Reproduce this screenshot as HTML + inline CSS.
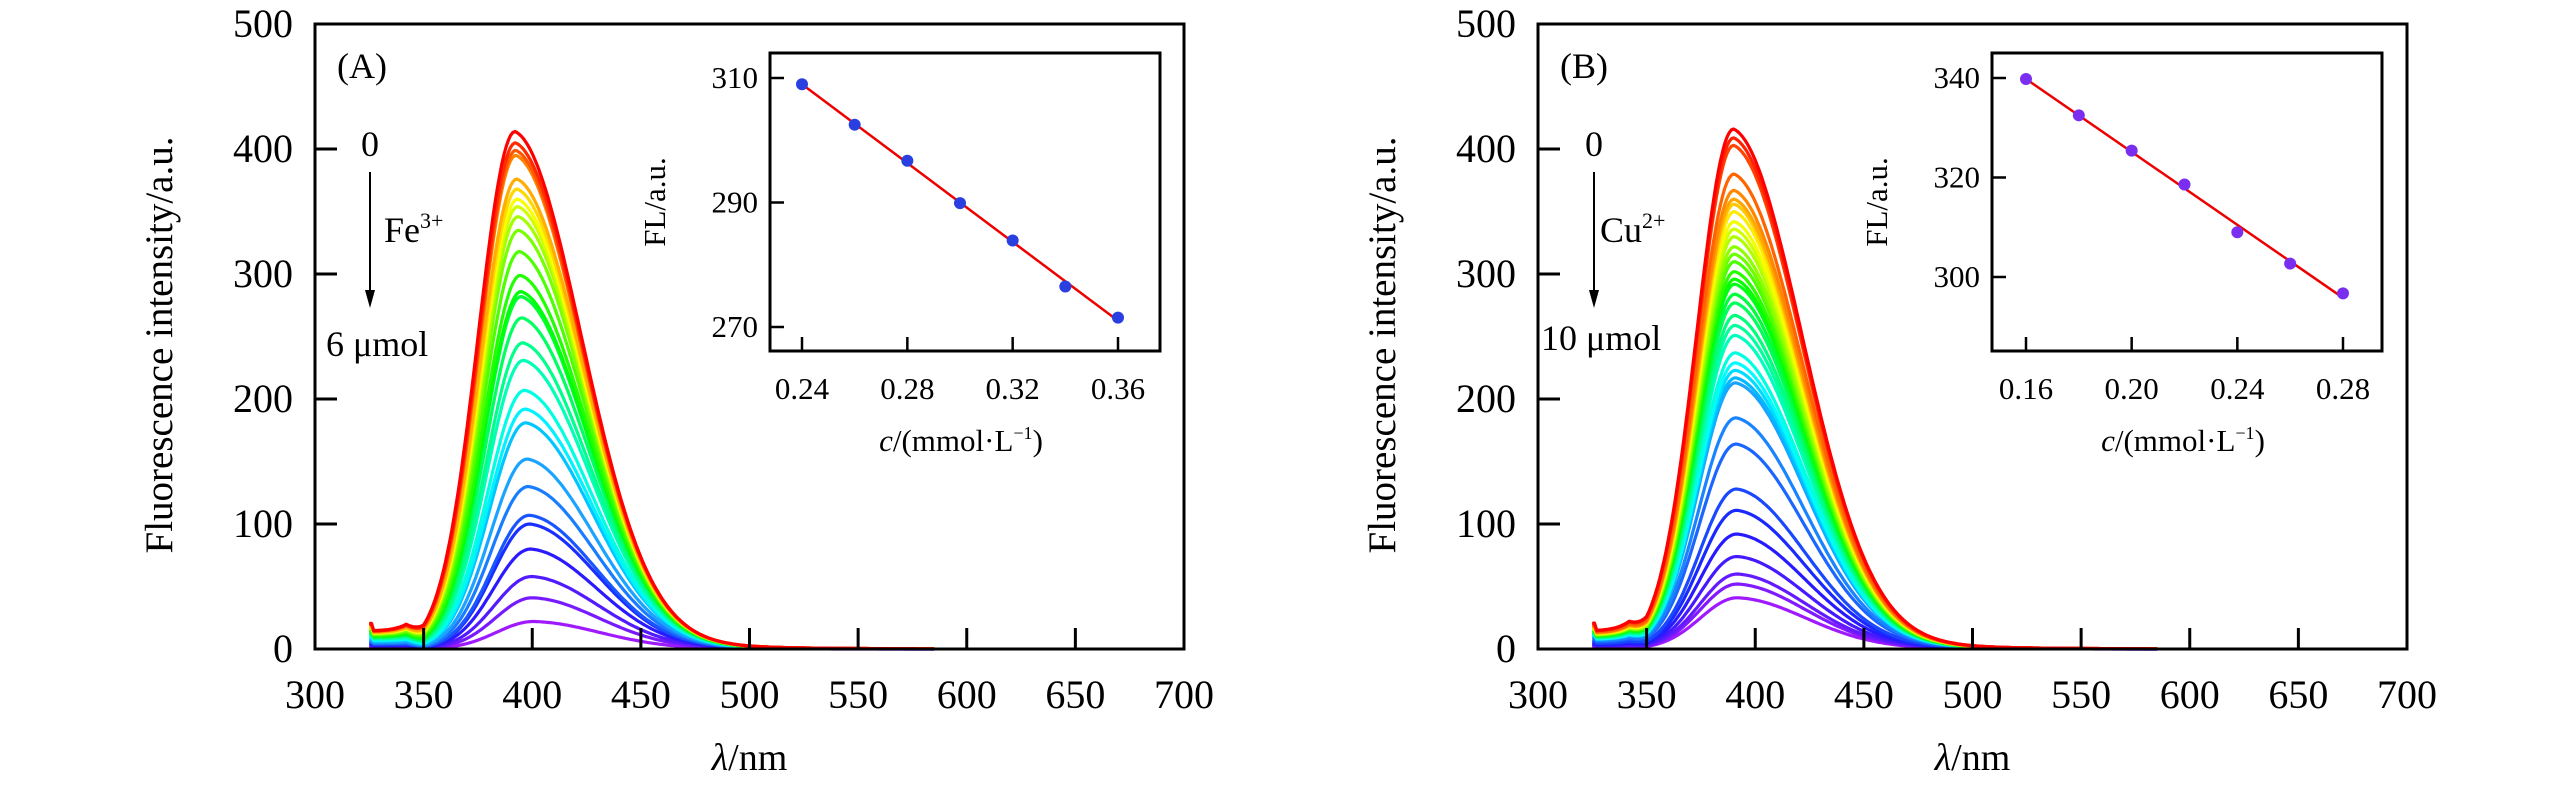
<!DOCTYPE html>
<html><head><meta charset="utf-8"><style>
body{margin:0;background:#fff;}
svg, svg text{font-family:"Liberation Serif","Times New Roman",serif;}
</style></head><body>
<svg id="fig" width="2567" height="787" viewBox="0 0 2567 787" font-family="Liberation Serif, serif"></svg>
<script>
const peaksA=[414,405,399,395,376,368,360,354,346,335,318,299,286,282,265,245,231,207,192,181,152,130,107,100,80,58,41,22];
const peaksB=[416,409,403,380,367,360,356,350,342,336,330,322,316,310,302,296,292,284,277,267,259,251,237,229,223,217,213,185,164,128,111,92,74,60,52,41];
const insetAx=[0.24,0.26,0.28,0.30,0.32,0.34,0.36];
const insetAy=[309.0,302.5,296.7,289.9,283.9,276.5,271.5];
const insetBx=[0.16,0.18,0.20,0.22,0.24,0.26,0.28];
const insetBy=[339.8,332.5,325.4,318.6,309.0,302.7,296.7];
const xTicks=[300,350,400,450,500,550,600,650,700];
const yTicks=[0,100,200,300,400,500];
const insetAxTicks=[0.24,0.28,0.32,0.36];
const insetAyTicks=[270,290,310];
const insetBxTicks=[0.16,0.20,0.24,0.28];
const insetByTicks=[300,320,340];

const NS="http://www.w3.org/2000/svg";
const svg=document.getElementById('fig');
function el(tag,attrs,parent,text){const e=document.createElementNS(NS,tag);for(const k in attrs)e.setAttribute(k,attrs[k]);if(tag==='text')e.setAttribute('font-family','Liberation Serif, serif');if(text!==undefined)e.textContent=text;(parent||svg).appendChild(e);return e;}

function panel(cfg){
  const g=el('g',{});
  
  
  const L=cfg.left,R=cfg.left+869,T=24,B=649;
  const sx=v=>L+(v-300)/400*(R-L);
  const sy=v=>B-v/500*(B-T);
  const n=cfg.peaks.length;
  const cg=el('g',{fill:'none','stroke-width':3.2,'stroke-linejoin':'round'},g);
  
  
  for(let i=n-1;i>=0;i--){
    const A=cfg.peaks[i];
    const hue=(i/(n-1))*275;
    const p=cfg.peakPos+(1-A/420)*cfg.shift;
    let d='';
    for(let x=325;x<=585;x+=1){
      const s=x<p?cfg.sl:cfg.sr;
      const u=Math.abs(x-p)/s;
      let y=A*Math.exp(-u*u/2);
      if(x>p) y=A*(0.93*Math.exp(-u*u/2)+0.07*Math.exp(-u/1.2));
      if(x<350) y+=A*0.035*(x<327?1.4:1)*Math.min(1,(350-x)/8);
      d+=(x===325?'M':'L')+sx(x).toFixed(1)+','+sy(y).toFixed(1);
    }
    const path=el('path',{d:d,stroke:`hsl(${hue},100%,${hue>200?55:50}%)`},cg);
    
    
  }
  const fr=el('rect',{x:L,y:T,width:R-L,height:B-T,fill:'none',stroke:'#000','stroke-width':3},g);
  
  
  xTicks.forEach(v=>{
    el('line',{x1:sx(v),x2:sx(v),y1:B,y2:B-21,stroke:'#000','stroke-width':3},g);
    const t=el('text',{x:sx(v),y:708,'font-size':40,'text-anchor':'middle'},g,v);
    
    
  });
  yTicks.forEach(v=>{
    el('line',{x1:L,x2:L+22,y1:sy(v),y2:sy(v),stroke:'#000','stroke-width':3},g);
    const t=el('text',{x:L-22,y:sy(v)+13,'font-size':40,'text-anchor':'end'},g,v);
    
    
  });
  const xl=el('text',{x:(L+R)/2,y:770,'font-size':38,'text-anchor':'middle'},g);
  xl.innerHTML='<tspan font-style="italic">λ</tspan>/nm';
  
  
  const yl=el('text',{x:0,y:0,'font-size':39,'text-anchor':'middle',transform:`translate(${L-143},345) rotate(-90)`},g,'Fluorescence intensity/a.u.');
  
  
  const lab=el('text',{x:L+22,y:78,'font-size':36},g,cfg.label);
  
  
  const z=el('text',{x:cfg.arrowX,y:156,'font-size':36,'text-anchor':'middle'},g,'0');
  
  
  el('line',{x1:cfg.arrowX,x2:cfg.arrowX,y1:172,y2:295,stroke:'#000','stroke-width':2},g);
  el('path',{d:`M${cfg.arrowX-5},290 L${cfg.arrowX+5},290 L${cfg.arrowX},308 Z`,fill:'#000'},g);
  const ion=el('text',{x:cfg.ionX,y:242,'font-size':36},g);
  ion.innerHTML=cfg.ion+'<tspan font-size="22" dy="-14">'+cfg.charge+'</tspan>';
  
  
  const en=el('text',{x:cfg.endX,y:cfg.endY,'font-size':36},g,cfg.end);
  
  
  const iL=cfg.iLeft,iR=iL+390,iT=53,iB=351;
  const ig=el('g',{},g);
  
  
  el('rect',{x:iL,y:iT,width:iR-iL,height:iB-iT,fill:'#fff',stroke:'#000','stroke-width':3},ig);
  const ix=v=>cfg.ix0+(v-cfg.ixv0)/(cfg.ixv1-cfg.ixv0)*(cfg.ix1-cfg.ix0);
  const iy=v=>cfg.iy0+(v-cfg.iyv0)/(cfg.iyv1-cfg.iyv0)*(cfg.iy1-cfg.iy0);
  cfg.ixt.forEach(v=>{
    el('line',{x1:ix(v),x2:ix(v),y1:iB,y2:iB-14,stroke:'#000','stroke-width':2.5},ig);
    const t=el('text',{x:ix(v),y:399,'font-size':31,'text-anchor':'middle'},ig,v.toFixed(2));
    
    
  });
  cfg.iyt.forEach(v=>{
    el('line',{x1:iL,x2:iL+14,y1:iy(v),y2:iy(v),stroke:'#000','stroke-width':2.5},ig);
    const t=el('text',{x:iL-12,y:iy(v)+10,'font-size':31,'text-anchor':'end'},ig,v);
    
    
  });
  const ixl=el('text',{x:(iL+iR)/2-4,y:451,'font-size':31,'text-anchor':'middle'},ig);
  ixl.innerHTML='<tspan font-style="italic">c</tspan>/(mmol·L<tspan font-size="18" dy="-12">−1</tspan><tspan dy="12">)</tspan>';
  
  
  const iyl=el('text',{x:0,y:0,'font-size':31,'text-anchor':'middle',transform:`translate(${iL-105},202) rotate(-90)`},ig,'FL/a.u.');
  
  
  const xs=cfg.ixd,ys=cfg.iyd,m=xs.length;
  const mx=xs.reduce((a,b)=>a+b)/m,my=ys.reduce((a,b)=>a+b)/m;
  let sxy=0,sxx=0;xs.forEach((x,i)=>{sxy+=(x-mx)*(ys[i]-my);sxx+=(x-mx)*(x-mx);});
  const k=sxy/sxx,b0=my-k*mx;
  const fl=el('line',{x1:ix(xs[0]),y1:iy(k*xs[0]+b0),x2:ix(xs[m-1]),y2:iy(k*xs[m-1]+b0),stroke:'#e00','stroke-width':2.5},ig);
  
  
  xs.forEach((x,i)=>{
    const c=el('circle',{cx:ix(x),cy:iy(ys[i]),r:6,fill:cfg.dot},ig);
    
    
  });
}
panel({name:'panel-a',left:315,peaks:peaksA,peakPos:392,shift:9,sl:17,sr:31,label:'(A)',arrowX:370,ionX:384,ion:'Fe',charge:'3+',end:'6 μmol',endX:326,endY:356,
  iLeft:770,ix0:802,ix1:1118,ixv0:0.24,ixv1:0.36,iy0:78,iy1:327,iyv0:310,iyv1:270,ixt:insetAxTicks,iyt:insetAyTicks,ixd:insetAx,iyd:insetAy,dot:'#2a3fe0'});
panel({name:'panel-b',left:1538,peaks:peaksB,peakPos:390,shift:2,sl:17,sr:32,label:'(B)',arrowX:1594,ionX:1600,ion:'Cu',charge:'2+',end:'10 μmol',endX:1541,endY:350,
  iLeft:1992,ix0:2026,ix1:2343,ixv0:0.16,ixv1:0.28,iy0:78,iy1:277,iyv0:340,iyv1:300,ixt:insetBxTicks,iyt:insetByTicks,ixd:insetBx,iyd:insetBy,dot:'#7a2ef0'});
</script>
</body></html>
